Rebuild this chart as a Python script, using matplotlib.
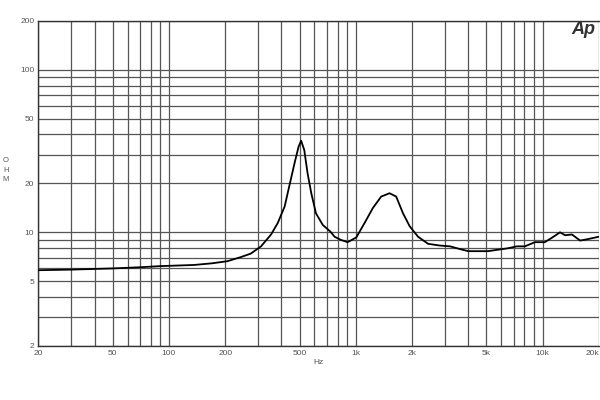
import matplotlib
matplotlib.use("Agg")
import matplotlib.pyplot as plt
from matplotlib.ticker import FixedLocator, LogLocator, NullFormatter

# impedance curve (Hz, ohm)
freq = [20, 30, 50, 70, 90, 136, 170, 206, 243, 274, 311, 352, 382, 416, 440,
        470, 494, 510, 530, 552, 578, 612, 666, 732, 770, 830, 904, 1006,
        1114, 1234, 1368, 1516, 1646, 1790, 1944, 2154, 2440, 2810, 3200,
        3600, 4000, 5100, 6520, 7280, 8040, 9100, 10280, 11280, 12400,
        13200, 14360, 15900, 17600, 20000]
ohm = [5.85, 5.9, 6.0, 6.1, 6.2, 6.3, 6.45, 6.65, 7.05, 7.4, 8.2, 9.7, 11.4,
       14.4, 19.1, 26.6, 33.6, 36.6, 32.1, 23.1, 17.4, 13.1, 11.1, 10.1,
       9.4, 9.0, 8.7, 9.3, 11.4, 14.1, 16.6, 17.4, 16.6, 13.1, 10.9, 9.4,
       8.5, 8.3, 8.2, 7.9, 7.66, 7.66, 7.98, 8.2, 8.2, 8.7, 8.7, 9.3, 10.0,
       9.6, 9.7, 8.9, 9.1, 9.4]

x_ticks = [20, 50, 100, 200, 500, 1000, 2000, 5000, 10000, 20000]
x_labels = ["20", "50", "100", "200", "500", "1k", "2k", "5k", "10k", "20k"]
y_ticks = [2, 5, 10, 20, 50, 100, 200]
y_labels = ["2", "5", "10", "20", "50", "100", "200"]

fig = plt.figure(figsize=(6, 4), dpi=100)
ax = fig.add_axes([0.064, 0.135, 0.934, 0.813])
ax.set_xscale("log")
ax.set_yscale("log")
ax.set_xlim(20, 20000)
ax.set_ylim(2, 200)

ax.plot(freq, ohm, color="black", lw=1.3, zorder=3)

ax.xaxis.set_major_locator(FixedLocator(x_ticks))
ax.set_xticklabels(x_labels)
ax.yaxis.set_major_locator(FixedLocator(y_ticks))
ax.set_yticklabels(y_labels)
ax.xaxis.set_minor_locator(LogLocator(base=10, subs=range(2, 10)))
ax.yaxis.set_minor_locator(LogLocator(base=10, subs=range(2, 10)))
ax.xaxis.set_minor_formatter(NullFormatter())
ax.yaxis.set_minor_formatter(NullFormatter())

ax.grid(True, which="both", color="#555555", lw=0.9)
ax.tick_params(which="both", length=0, labelsize=6, labelcolor="#555555", pad=3)
for lbl in ax.get_xticklabels() + ax.get_yticklabels():
    lbl.set_family("Liberation Sans")
ax.get_xticklabels()[-1].set_horizontalalignment("right")  # keep 20k inside the frame

for s in ["left", "bottom", "top"]:
    ax.spines[s].set_color("#333333")
    ax.spines[s].set_linewidth(1.0)
ax.spines["right"].set_visible(False)

fig.text(0.53, 0.095, "Hz", fontsize=6, color="#555555", family="Liberation Sans",
         ha="center", va="center")
fig.text(0.01, 0.575, "O\nH\nM", fontsize=5.5, color="#555555", family="Liberation Sans",
         ha="center", va="center", linespacing=1.5)
fig.text(0.972, 0.925, "Ap", fontsize=13, color="#333333", family="Liberation Sans",
         weight="bold", style="italic", ha="center", va="center")

fig.savefig("out.png", dpi=100, facecolor="white")
